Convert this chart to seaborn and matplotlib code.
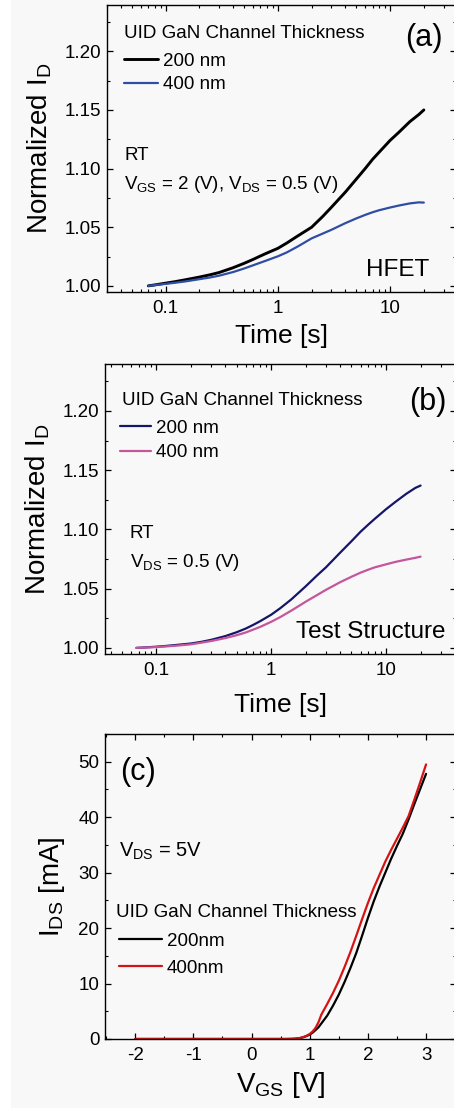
import numpy as np
import pandas as pd
import matplotlib
matplotlib.use('Agg')
from matplotlib import pyplot as plt
from matplotlib.patches import Rectangle
from matplotlib.ticker import MultipleLocator, LogLocator, FixedFormatter, FixedLocator
import seaborn as sns

# (a) HFET transient
t_a = [0.07, 0.08, 0.1, 0.12, 0.15, 0.2, 0.25, 0.3, 0.4, 0.5, 0.6, 0.7, 0.8, 1, 1.2, 1.5,
       2, 2.5, 3, 4, 5, 6, 7, 8, 10, 12, 15, 18, 20]
id_a_200 = [1.000, 1.0008, 1.0023, 1.0035, 1.0052, 1.0075, 1.0095, 1.0114, 1.0155, 1.0192,
            1.0225, 1.0255, 1.028, 1.032, 1.0365, 1.0425, 1.050, 1.059, 1.067, 1.080,
            1.091, 1.100, 1.108, 1.114, 1.124, 1.131, 1.140, 1.146, 1.150]
id_a_400 = [1.000, 1.0007, 1.0017, 1.0026, 1.0038, 1.0057, 1.0072, 1.0087, 1.0118, 1.0148,
            1.0175, 1.0198, 1.0218, 1.0252, 1.0285, 1.0335, 1.0405, 1.0445, 1.0478, 1.0535,
            1.0575, 1.0605, 1.0628, 1.0645, 1.0668, 1.0685, 1.0703, 1.0712, 1.071]

# (b) test structure transient
t_b = [0.067, 0.08, 0.1, 0.12, 0.15, 0.2, 0.25, 0.3, 0.4, 0.5, 0.6, 0.7, 0.8, 1, 1.2, 1.5,
       2, 2.5, 3, 4, 5, 6, 7, 8, 10, 12, 15, 18, 20]
id_b_200 = [1.000, 1.0004, 1.001, 1.0016, 1.0025, 1.0037, 1.0052, 1.0068, 1.0100, 1.0132,
            1.0163, 1.0195, 1.0225, 1.028, 1.0335, 1.041, 1.052, 1.061, 1.068, 1.0805,
            1.090, 1.098, 1.104, 1.109, 1.117, 1.123, 1.130, 1.135, 1.137]
id_b_400 = [1.000, 1.0003, 1.0007, 1.0012, 1.0019, 1.003, 1.0045, 1.0058, 1.0083, 1.0107,
            1.013, 1.0155, 1.0177, 1.022, 1.026, 1.0315, 1.039, 1.0445, 1.049, 1.0555,
            1.060, 1.0635, 1.066, 1.068, 1.0705, 1.0725, 1.0745, 1.076, 1.077]

# (c) transfer curves
vgs = [-2, -1, 0, 0.5, 0.6, 0.7, 0.75, 0.8, 0.85, 0.9, 0.95, 1.0, 1.05, 1.1, 1.15, 1.2,
       1.3, 1.4, 1.5, 1.6, 1.7, 1.8, 1.9, 2.0, 2.1, 2.2, 2.3, 2.4, 2.5, 2.6, 2.7, 2.8, 2.9, 3.0]
ids_200 = [0, 0, 0, 0, 0, 0.02, 0.05, 0.1, 0.2, 0.35, 0.55, 0.8, 1.15, 1.6, 2.1, 2.8,
           4.2, 6.0, 8.0, 10.3, 12.8, 15.5, 18.6, 21.8, 24.8, 27.5, 30.0, 32.5, 34.8, 37.0,
           39.6, 42.4, 45.1, 47.8]
ids_400 = [0, 0, 0, 0, 0, 0.03, 0.06, 0.12, 0.22, 0.38, 0.6, 0.9, 1.35, 2.0, 3.0, 4.4,
           6.3, 8.3, 10.5, 13.0, 15.7, 18.6, 21.6, 24.5, 27.2, 29.6, 32.0, 34.1, 36.1, 38.1,
           40.2, 43.2, 46.3, 49.5]

legend_title = 'UID GaN Channel Thickness'

bg = '#f8f8f8'
sns.set_style('ticks')
plt.rcParams['font.family'] = ['Liberation Sans', 'DejaVu Sans']
plt.rcParams['mathtext.fontset'] = 'custom'
plt.rcParams['mathtext.rm'] = 'Liberation Sans'
plt.rcParams['mathtext.it'] = 'Liberation Sans'
plt.rcParams['axes.edgecolor'] = 'black'
plt.rcParams['axes.linewidth'] = 1.0
plt.rcParams['text.color'] = 'black'
plt.rcParams['axes.labelcolor'] = 'black'
plt.rcParams['xtick.labelcolor'] = 'black'
plt.rcParams['ytick.labelcolor'] = 'black'

fig = plt.figure(figsize=(4.54, 11.08), dpi=100, facecolor=bg)
fig.patches.append(Rectangle((0, 0), 11 / 454, 1, transform=fig.transFigure,
                             facecolor='white', edgecolor='none', zorder=-1))

ax1 = fig.add_axes([0.2357, 0.7365, 0.7687, 0.259])
ax2 = fig.add_axes([0.2313, 0.4097, 0.7731, 0.2617])
ax3 = fig.add_axes([0.2313, 0.0623, 0.7731, 0.2753])

fs_tick = 13.5
fs_lab = 19
fs_txt = 13.5


def style_ticks(ax):
    ax.set_facecolor(bg)
    ax.tick_params(which='both', direction='in', top=True, right=True,
                   labelsize=fs_tick, color='black')
    ax.tick_params(which='major', length=4.5, width=0.9)
    ax.tick_params(which='minor', length=2.5, width=0.8)
    ax.tick_params(axis='y', pad=4)
    ax.tick_params(axis='x', pad=6)


def time_panel(ax, t, y200, y400, colors, widths, xlim, xpad):
    df = pd.DataFrame({'t': t + t, 'y': y200 + y400,
                       'thk': ['200 nm'] * len(t) + ['400 nm'] * len(t)})
    sns.lineplot(data=df, x='t', y='y', hue='thk', palette=colors, ax=ax,
                 errorbar=None, size='thk', sizes=widths)
    ax.set_xscale('log')
    ax.set_xlim(*xlim)
    ax.set_ylim(0.9948, 1.2395)
    ax.yaxis.set_major_locator(MultipleLocator(0.05))
    ax.yaxis.set_minor_locator(MultipleLocator(0.025))
    ax.yaxis.set_major_formatter(plt.FuncFormatter(lambda v, p: f'{v:.2f}'))
    ax.xaxis.set_major_locator(FixedLocator([0.1, 1, 10]))
    ax.xaxis.set_major_formatter(FixedFormatter(['0.1', '1', '10']))
    ax.xaxis.set_minor_locator(LogLocator(base=10, subs=np.arange(2, 10)))
    ax.set_xlabel('Time [s]', fontsize=fs_lab, labelpad=xpad)
    ax.set_ylabel(r'Normalized I$_\mathregular{D}$', fontsize=fs_lab + 1, labelpad=8)
    style_ticks(ax)


time_panel(ax1, t_a, id_a_200, id_a_400, ['black', '#2f4ea3'], {'200 nm': 2.1, '400 nm': 1.6},
           (0.030, 38.7), 5)
time_panel(ax2, t_b, id_b_200, id_b_400, ['#15156a', '#c4569c'], {'200 nm': 1.6, '400 nm': 1.6},
           (0.0357, 40.7), 10)

df3 = pd.DataFrame({'v': vgs + vgs, 'i': ids_200 + ids_400,
                    'thk': ['200nm'] * len(vgs) + ['400nm'] * len(vgs)})
sns.lineplot(data=df3, x='v', y='i', hue='thk', palette=['black', '#d41414'], ax=ax3,
             errorbar=None, linewidth=1.6)
ax3.set_xlim(-2.52, 3.515)
ax3.set_ylim(0, 55)
ax3.xaxis.set_major_locator(MultipleLocator(1))
ax3.xaxis.set_minor_locator(MultipleLocator(0.5))
ax3.yaxis.set_major_locator(MultipleLocator(10))
ax3.yaxis.set_minor_locator(MultipleLocator(5))
ax3.xaxis.set_major_formatter(plt.FuncFormatter(lambda v, p: f'{v:.0f}'))
ax3.set_xlabel(r'V$_\mathregular{GS}$ [V]', fontsize=fs_lab + 1, labelpad=4)
ax3.set_ylabel(r'I$_\mathregular{DS}$ [mA]', fontsize=fs_lab + 1, labelpad=8)
style_ticks(ax3)

leg_kw = dict(frameon=False, loc='upper left', fontsize=fs_txt,
              handletextpad=0.25, borderpad=0, borderaxespad=0)
for ax, tpos, anchor, hl, ls in [(ax1, (0.049, 0.899), (0.049, 0.833), 1.8, 0.33),
                                 (ax2, (0.049, 0.873), (0.043, 0.808), 1.65, 0.38),
                                 (ax3, (0.031, 0.414), (0.040, 0.348), 2.3, 0.52)]:
    ax.text(tpos[0], tpos[1], legend_title, transform=ax.transAxes, fontsize=fs_txt,
            va='center')
    ax.legend(bbox_to_anchor=anchor, handlelength=hl, labelspacing=ls, **leg_kw)

ax1.text(0.049, 0.46, 'RT', transform=ax1.transAxes, fontsize=fs_txt)
ax1.text(0.049, 0.359, r'V$_\mathregular{GS}$ = 2 (V), V$_\mathregular{DS}$ = 0.5 (V)',
         transform=ax1.transAxes, fontsize=fs_txt)
ax1.text(0.923, 0.056, 'HFET', transform=ax1.transAxes, fontsize=17.5, ha='right')
ax1.text(0.963, 0.857, '(a)', transform=ax1.transAxes, fontsize=22, ha='right')

ax2.text(0.071, 0.399, 'RT', transform=ax2.transAxes, fontsize=fs_txt)
ax2.text(0.071, 0.299, r'V$_\mathregular{DS}$ = 0.5 (V)', transform=ax2.transAxes,
         fontsize=fs_txt)
ax2.text(0.969, 0.054, 'Test Structure', transform=ax2.transAxes, fontsize=17.5, ha='right')
ax2.text(0.974, 0.841, '(b)', transform=ax2.transAxes, fontsize=22, ha='right')

ax3.text(0.043, 0.849, '(c)', transform=ax3.transAxes, fontsize=22)
ax3.text(0.04, 0.598, r'V$_\mathregular{DS}$ = 5V', transform=ax3.transAxes, fontsize=fs_txt + 1)

fig.savefig('out.png', dpi=100, facecolor=bg)
